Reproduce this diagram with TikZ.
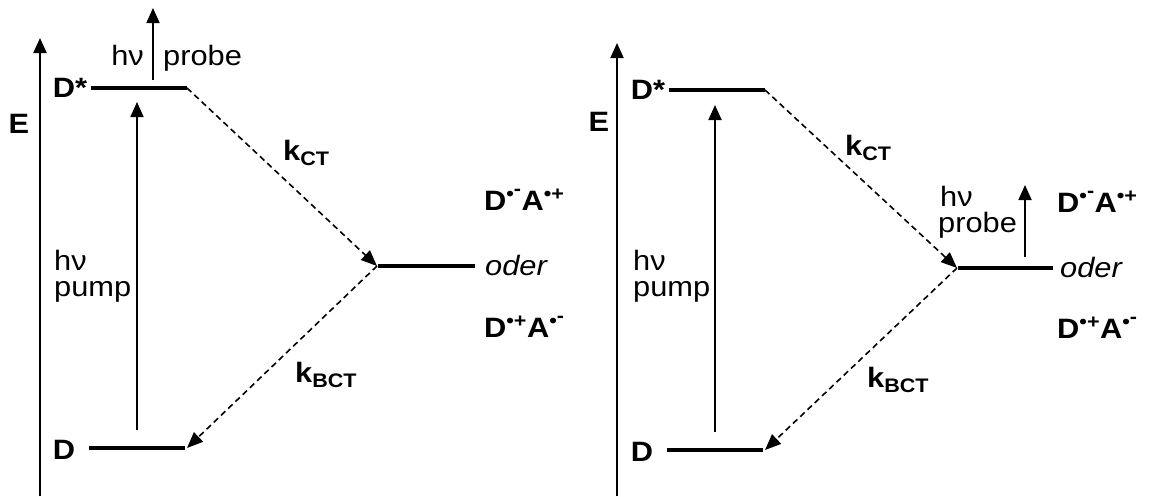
\documentclass[tikz,border=0pt]{standalone}
\usepackage{fontspec}
\setmainfont[FakeStretch=1.1]{Liberation Sans}
\usetikzlibrary{arrows.meta}
\newcommand{\radminus}{\raisebox{0.3em}{-}}
\begin{document}
\begin{tikzpicture}[x=1pt,y=-1pt,
  txt/.style={inner sep=0pt, font=\fontsize{28}{32}\selectfont},
  ltxt/.style={inner sep=0pt, align=left, anchor=north west, font=\fontsize{28}{26}\selectfont},
  btxt/.style={inner sep=0pt, font=\bfseries\fontsize{28}{32}\selectfont},
  itxt/.style={inner sep=0pt, font=\itshape\fontsize{28}{32}\selectfont},
  axis/.style={line width=2pt, -{Triangle[length=15pt,width=13pt]}},
  photon/.style={line width=1.8pt, -{Triangle[length=15pt,width=13pt]}},
  level/.style={line width=4pt},
  transfer/.style={line width=1.6pt, dash pattern=on 6pt off 4pt, -{Triangle[length=16pt,width=13pt]}}]
\useasboundingbox (0,0) rectangle (1153,496);
% ---------------- left panel ----------------
\coordinate (LaxB) at (40,496); \coordinate (LaxT) at (40,38);
\draw[axis] (LaxB) -- (LaxT);
\node[btxt, anchor=base] (LE) at (19,133) {E};
\node[btxt, anchor=base] (LDsL) at (70,97) {D*};
\coordinate (LDs1) at (91,88); \coordinate (LDs2) at (187,88);
\draw[level] (LDs1) -- (LDs2);
\coordinate (LprB) at (153,80); \coordinate (LprT) at (153,8);
\draw[photon] (LprB) -- (LprT);
\node[txt, anchor=base east] (Lhv) at (144,65) {hν};
\node[txt, anchor=base west] (Lprobe) at (163,65) {probe};
\coordinate (LpuB) at (137,430); \coordinate (LpuT) at (137,102);
\draw[photon] (LpuB) -- (LpuT);
\node[ltxt] (Lpump) at (54,250) {hν\\pump};
\node[btxt, anchor=base] (LDL) at (64,459) {D};
\coordinate (LD1) at (89,448); \coordinate (LD2) at (185,448);
\draw[level] (LD1) -- (LD2);
\coordinate (LJ) at (377,266); \coordinate (LJ1) at (378,266); \coordinate (LJ2) at (475,266);
\draw[level] (LJ1) -- (LJ2);
\draw[transfer] (LDs2) -- (LJ);
\draw[transfer] (LJ) -- (187,448);
\node[btxt, anchor=base west] (LkCT) at (283,160) {k\textsubscript{CT}};
\node[btxt, anchor=base west] (LkBCT) at (295,382) {k\textsubscript{BCT}};
\node[btxt, anchor=base west] (LDA1) at (484,210) {D\textsuperscript{•\radminus}A\textsuperscript{•+}};
\node[itxt, anchor=base west] (Loder) at (485,275) {oder};
\node[btxt, anchor=base west] (LDA2) at (484,337) {D\textsuperscript{•+}A\textsuperscript{•\radminus}};
% ---------------- right panel ----------------
\coordinate (RaxB) at (617,496); \coordinate (RaxT) at (617,43);
\draw[axis] (RaxB) -- (RaxT);
\node[btxt, anchor=base] (RE) at (599,131) {E};
\node[btxt, anchor=base] (RDsL) at (648,99) {D*};
\coordinate (RDs1) at (669,90); \coordinate (RDs2) at (765,90);
\draw[level] (RDs1) -- (RDs2);
\coordinate (RpuB) at (715,432); \coordinate (RpuT) at (715,105);
\draw[photon] (RpuB) -- (RpuT);
\node[ltxt] (Rpump) at (633,250) {hν\\pump};
\node[btxt, anchor=base] (RDL) at (642,461) {D};
\coordinate (RD1) at (667,450); \coordinate (RD2) at (763,450);
\draw[level] (RD1) -- (RD2);
\coordinate (RJ) at (957,268); \coordinate (RJ1) at (958,268); \coordinate (RJ2) at (1053,268);
\draw[level] (RJ1) -- (RJ2);
\draw[transfer] (RDs2) -- (RJ);
\draw[transfer] (RJ) -- (765,450);
\node[btxt, anchor=base west] (RkCT) at (845,155) {k\textsubscript{CT}};
\node[btxt, anchor=base west] (RkBCT) at (867,387) {k\textsubscript{BCT}};
\coordinate (RprB) at (1025,257); \coordinate (RprT) at (1025,185);
\draw[photon] (RprB) -- (RprT);
\node[ltxt] (Rprobe) at (938,186) {\hspace*{2pt}hν\\probe};
\node[btxt, anchor=base west] (RDA1) at (1057,212) {D\textsuperscript{•\radminus}A\textsuperscript{•+}};
\node[itxt, anchor=base west] (Roder) at (1060,277) {oder};
\node[btxt, anchor=base west] (RDA2) at (1057,338) {D\textsuperscript{•+}A\textsuperscript{•\radminus}};
\end{tikzpicture}
\end{document}
